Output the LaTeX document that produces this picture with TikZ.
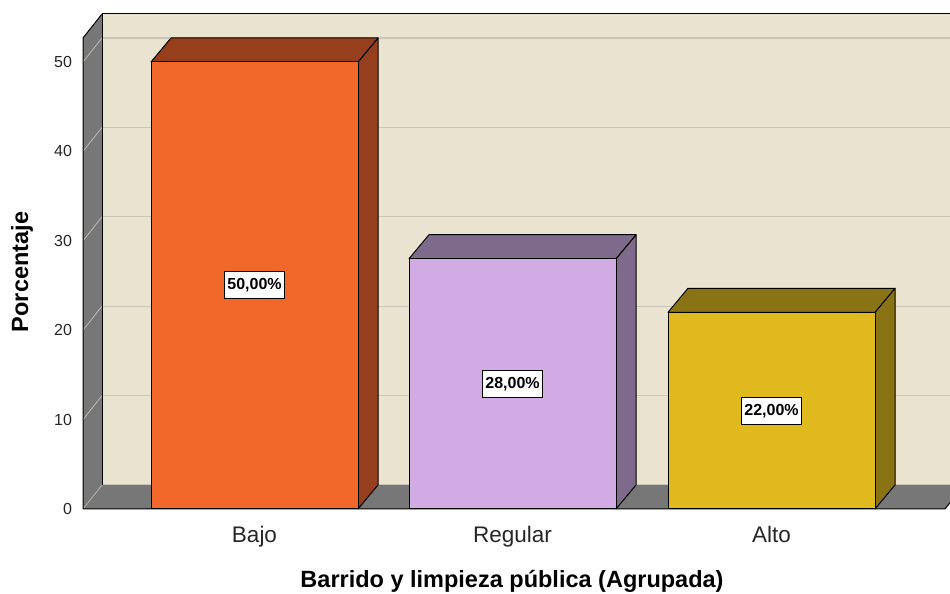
\documentclass[tikz,border=0pt]{standalone}
\usepackage{fontspec}
\setmainfont{Liberation Sans}
\definecolor{wallbg}{HTML}{E9E3CF}
\definecolor{wallgray}{HTML}{777777}
\definecolor{gridc}{HTML}{C9C5B9}
\definecolor{bajoF}{HTML}{F2682A}
\definecolor{bajoS}{HTML}{963F1C}
\definecolor{regF}{HTML}{D2AAE4}
\definecolor{regS}{HTML}{7E6A8B}
\definecolor{altoF}{HTML}{E0B91F}
\definecolor{altoS}{HTML}{8A7314}
\tikzset{
  edge/.style={draw=black,line width=1pt,line join=round},
  vallabel/.style={draw=black,fill=white,line width=1pt,font=\fontsize{16}{18}\selectfont\bfseries,inner xsep=2.5pt,minimum height=27pt},
  ticklabel/.style={anchor=east,font=\fontsize{16}{18}\selectfont,text=black!85},
  catlabel/.style={anchor=base,font=\fontsize{22.5}{24}\selectfont,text=black!85},
  axtitle/.style={font=\fontsize{23.5}{25}\selectfont\bfseries}
}
\begin{document}
\begin{tikzpicture}[x=1pt,y=1pt]
\useasboundingbox (0,0) rectangle (950,594);
% back wall
\fill[wallbg] (102,109) rectangle (950,580);
% left wall
\fill[wallgray] (83,85) -- (83,556) -- (102,580) -- (102,109) -- cycle;
% floor
\fill[wallgray] (83,85) -- (102,109) -- (950,109) -- (950,91.3) -- (945,85) -- cycle;
% grid lines
\foreach \v in {10,20,30,40,50}{
  \pgfmathsetmacro{\yy}{85+8.94*\v}
  \draw[gridc,line width=1.3pt] (102,\yy+24) -- (950,\yy+24);
  \draw[gridc!80!wallgray,line width=0.9pt] (83,\yy) -- (102,\yy+24);
}
\draw[gridc!70!wallgray,line width=0.9pt] (83,85) -- (102,109);
\draw[gridc,line width=1pt] (102,109) -- (950,109);
% borders
\draw[edge] (102,580) -- (950,580);
\draw[edge] (102,109) -- (102,580);
\draw[edge] (83,85) -- (83,556) -- (102,580);
\draw[edge] (83,85) -- (945,85) -- (950,91.3);
% bars
\foreach \x/\t/\cf/\cs in {151/532/bajoF/bajoS,409/335.3/regF/regS,668/281.7/altoF/altoS}{
  \filldraw[fill=\cs,edge] (\x+207,85) -- (\x+207,\t) -- (\x+227,\t+24) -- (\x+227,109) -- cycle;
  \filldraw[fill=\cs,edge] (\x,\t) -- (\x+20,\t+24) -- (\x+227,\t+24) -- (\x+207,\t) -- cycle;
  \filldraw[fill=\cf,edge] (\x,85) rectangle (\x+207,\t);
}
% value labels
\node[vallabel] (lb) at (254.5,308.5) {50,00\%};
\node[vallabel] (lr) at (512.5,210.2) {28,00\%};
\node[vallabel] (la) at (771.5,183.3) {22,00\%};
% tick labels
\node[ticklabel] (t0) at (75.5,85) {0};
\node[ticklabel] (t10) at (75.5,174.4) {10};
\node[ticklabel] (t20) at (75.5,263.8) {20};
\node[ticklabel] (t30) at (75.5,353.2) {30};
\node[ticklabel] (t40) at (75.5,442.6) {40};
\node[ticklabel] (t50) at (75.5,532) {50};
% category labels
\node[catlabel] (cb) at (254.5,51) {Bajo};
\node[catlabel] (cr) at (512.5,51) {Regular};
\node[catlabel] (ca) at (771.5,51) {Alto};
% axis titles
\node[axtitle,anchor=base] (xt) at (512,6.5) {Barrido y limpieza pública (Agrupada)};
\node[axtitle,rotate=90] (yt) at (22,322) {Porcentaje};
\end{tikzpicture}
\end{document}
